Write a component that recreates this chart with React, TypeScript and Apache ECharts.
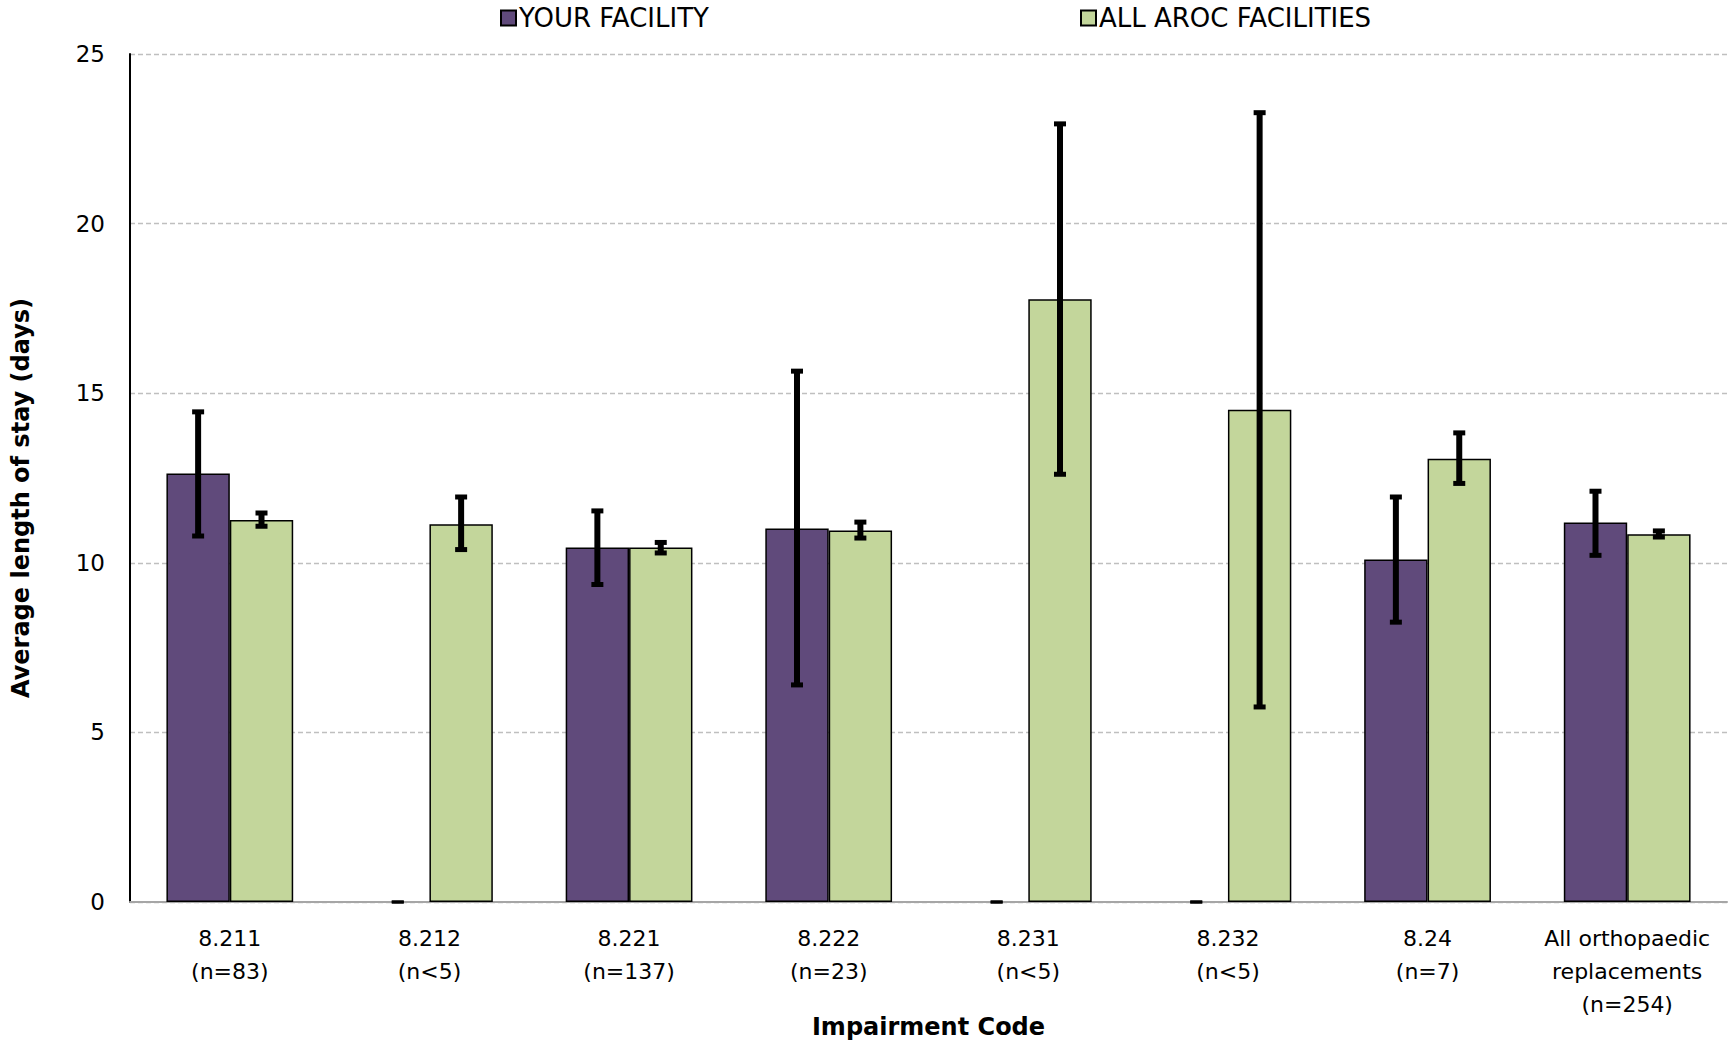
import React, { useEffect, useRef } from "react";
import * as echarts from "echarts";

const codes = ["8.211", "8.212", "8.221", "8.222", "8.231", "8.232", "8.24", "All orthopaedic\nreplacements"];
const counts = ["(n=83)", "(n<5)", "(n=137)", "(n=23)", "(n<5)", "(n<5)", "(n=7)", "(n=254)"];

const facilityValues: (number | string)[] = [12.63, "-", 10.45, 11.01, "-", "-", 10.1, 11.19];
const facilityLow = [10.79, 0, 9.36, 6.4, 0, 0, 8.25, 10.22];
const facilityHigh = [14.45, 0, 11.53, 15.65, 0, 0, 11.94, 12.11];

const arocValues = [11.26, 11.14, 10.45, 10.95, 17.77, 14.51, 13.07, 10.84];
const arocLow = [11.08, 10.39, 10.29, 10.73, 12.61, 5.75, 12.34, 10.76];
const arocHigh = [11.47, 11.94, 10.6, 11.2, 22.94, 23.27, 13.83, 10.94];

const yTicks = [0, 5, 10, 15, 20, 25];

const SERIES_FACILITY = "YOUR FACILITY";
const SERIES_AROC = "ALL AROC FACILITIES";
const FONT = "DejaVu Sans";
const CATEGORY_GAP = 0.365;

function errorRenderer(offsetFrac: number) {
  return (params: any, api: any) => {
    const idx = api.value(0);
    const lo = api.value(1);
    const hi = api.value(2);
    const pLo = api.coord([idx, lo]);
    const pHi = api.coord([idx, hi]);
    const band = api.size([1, 0])[0];
    const x = pLo[0] + offsetFrac * band;
    const capW = 12;
    const capH = 5;
    const zero = hi === lo;
    return {
      type: "group",
      children: [
        {
          type: "line",
          shape: { x1: x, y1: pHi[1], x2: x, y2: pLo[1] },
          style: { stroke: "#000", lineWidth: 6 },
        },
        {
          type: "rect",
          shape: { x: x - capW / 2, y: pHi[1] - (zero ? 1.5 : capH / 2), width: capW, height: zero ? 3 : capH },
          style: { fill: "#000" },
        },
        {
          type: "rect",
          shape: { x: x - capW / 2, y: pLo[1] - (zero ? 1.5 : capH / 2), width: capW, height: zero ? 3 : capH },
          style: { fill: "#000" },
        },
      ],
    };
  };
}

export default function App() {
  const ref = useRef<HTMLDivElement>(null);
  useEffect(() => {
    document.body.style.margin = "0";
    if (!ref.current) return;
    const chart = echarts.init(ref.current, undefined, { renderer: "svg" });
    const categories = codes.map((c, i) => `${c}\n${counts[i]}`);
    const barFrac = (1 - CATEGORY_GAP) / 2;
    const legendText = { fontFamily: FONT, fontSize: 26, color: "#000", padding: [0, 0, 0, -2] };
    const option: any = {
      animation: false,
      backgroundColor: "#fff",
      textStyle: { fontFamily: FONT },
      legend: [
        {
          data: [SERIES_FACILITY],
          icon: "rect",
          left: 495,
          top: 0,
          itemWidth: 15,
          itemHeight: 15,
          itemGap: 0,
          textStyle: legendText,
        },
        {
          data: [SERIES_AROC],
          icon: "rect",
          left: 1075,
          top: 0,
          itemWidth: 15,
          itemHeight: 15,
          itemGap: 0,
          textStyle: legendText,
        },
      ],
      grid: { left: 130, right: 2, top: 54, bottom: 143, containLabel: false, outerBoundsMode: "none" },
      xAxis: {
        type: "category",
        data: categories,
        name: "Impairment Code",
        nameLocation: "middle",
        nameGap: 113,
        nameMoveOverlap: false,
        nameTextStyle: { fontFamily: FONT, fontSize: 24, fontWeight: "bold", color: "#000" },
        axisLine: { show: true, lineStyle: { color: "#a6a6a6", width: 2 } },
        axisTick: { show: false },
        axisLabel: {
          fontFamily: FONT,
          fontSize: 22,
          color: "#000",
          lineHeight: 33,
          margin: 20,
          interval: 0,
        },
      },
      yAxis: {
        type: "value",
        min: 0,
        max: yTicks[yTicks.length - 1],
        interval: yTicks[1] - yTicks[0],
        name: "Average length of stay (days)",
        nameLocation: "middle",
        nameGap: 97,
        nameMoveOverlap: false,
        nameTextStyle: {
          fontFamily: FONT,
          fontSize: 24,
          fontWeight: "bold",
          color: "#000",
          padding: [0, 40, 0, 0],
        },
        axisLine: { show: true, lineStyle: { color: "#000", width: 2 } },
        axisTick: { show: false },
        axisLabel: { fontFamily: FONT, fontSize: 23, color: "#000", margin: 25 },
        splitLine: { show: true, lineStyle: { color: "#bfbfbf", width: 1.3, type: [5, 3] } },
      },
      series: [
        {
          name: SERIES_FACILITY,
          type: "bar",
          data: facilityValues,
          barGap: "0%",
          barCategoryGap: `${CATEGORY_GAP * 100}%`,
          itemStyle: { color: "#604A7B", borderColor: "#000", borderWidth: 1.5 },
          z: 2,
        },
        {
          name: SERIES_AROC,
          type: "bar",
          data: arocValues,
          barGap: "0%",
          barCategoryGap: `${CATEGORY_GAP * 100}%`,
          itemStyle: { color: "#C3D69B", borderColor: "#000", borderWidth: 1.5 },
          z: 2,
        },
        {
          name: "facility-error",
          type: "custom",
          renderItem: errorRenderer(-barFrac / 2),
          data: facilityLow.map((lo, i) => [i, lo, facilityHigh[i]]),
          encode: { x: 0, y: [1, 2] },
          z: 5,
          silent: true,
        },
        {
          name: "aroc-error",
          type: "custom",
          renderItem: errorRenderer(barFrac / 2),
          data: arocLow.map((lo, i) => [i, lo, arocHigh[i]]),
          encode: { x: 0, y: [1, 2] },
          z: 5,
          silent: true,
        },
      ],
    };
    chart.setOption(option);
    return () => chart.dispose();
  }, []);
  return <div ref={ref} style={{ width: 1729, height: 1045 }} />;
}
